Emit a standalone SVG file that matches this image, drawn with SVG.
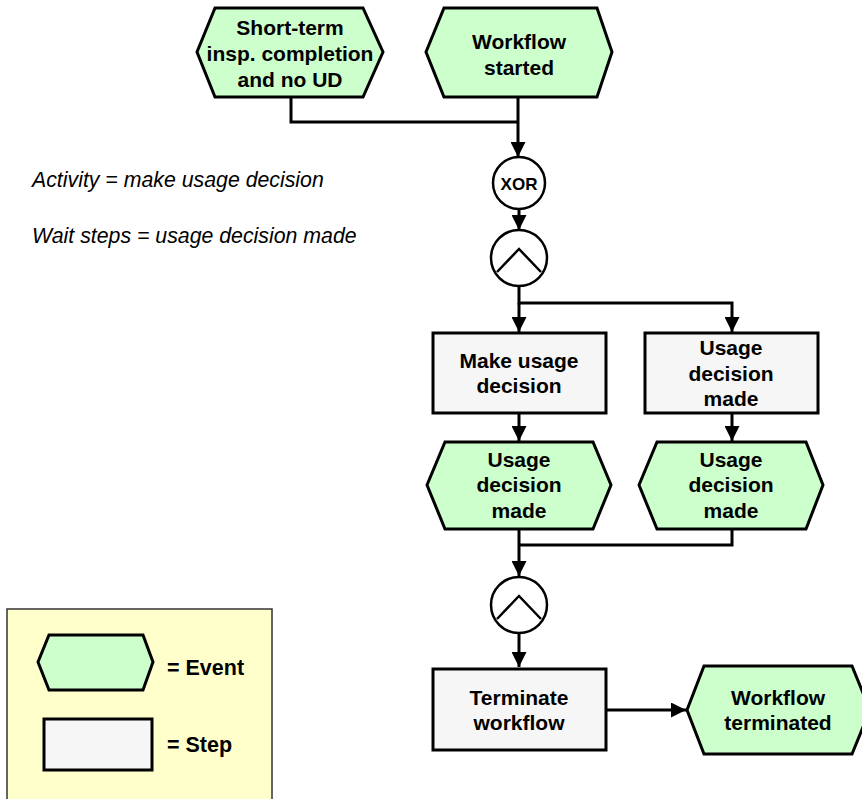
<svg xmlns="http://www.w3.org/2000/svg" width="862" height="799" viewBox="0 0 862 799">
<defs>
<style>
.ev{fill:#CCFFCC;stroke:#000;stroke-width:3;stroke-linejoin:miter}
.st{fill:#F6F6F6;stroke:#000;stroke-width:3}
.gw{fill:#FFFFFF;stroke:#000;stroke-width:2.5}
.gl{fill:none;stroke:#000;stroke-width:2.5}
.lbl{font-family:"Liberation Sans",Arial,sans-serif;font-weight:bold;font-size:21px;fill:#000;text-anchor:middle}
.note{font-family:"Liberation Sans",Arial,sans-serif;font-style:italic;font-size:21.3px;fill:#000}
.leg{font-family:"Liberation Sans",Arial,sans-serif;font-weight:bold;font-size:21.5px;fill:#000}
.cn{fill:none;stroke:#000;stroke-width:3}
</style>
<marker id="arr" viewBox="0 0 10 10" refX="10" refY="5" markerWidth="15" markerHeight="15" markerUnits="userSpaceOnUse" orient="auto">
<path d="M0,0 L10,5 L0,10 Z" fill="#000"/>
</marker>
</defs>
<rect width="862" height="799" fill="#FFFFFF"/>

<g id="connectors">
<path class="cn" d="M291,97 V122 H518"/>
<path class="cn" d="M518,97 V157" marker-end="url(#arr)"/>
<path class="cn" d="M519,209 V230" marker-end="url(#arr)"/>
<path class="cn" d="M519,287 V303 H732 V332" marker-end="url(#arr)"/>
<path class="cn" d="M519,303 V332" marker-end="url(#arr)"/>
<path class="cn" d="M519,413 V441" marker-end="url(#arr)"/>
<path class="cn" d="M732,413 V441" marker-end="url(#arr)"/>
<path class="cn" d="M732,529 V545 H519"/>
<path class="cn" d="M519,529 V576" marker-end="url(#arr)"/>
<path class="cn" d="M519,634 V667" marker-end="url(#arr)"/>
<path class="cn" d="M606,710 H686" marker-end="url(#arr)"/>
</g>

<g id="ev_shortterm">
<polygon class="ev" points="197,52 215,8 363,8 383,52 363,97 215,97"/>
<text class="lbl"><tspan x="290" y="35">Short-term</tspan><tspan x="290" y="61">insp. completion</tspan><tspan x="290" y="87">and no UD</tspan></text>
</g>

<g id="ev_started">
<polygon class="ev" points="426,52 444,8 597,8 612,52 597,97 444,97"/>
<text class="lbl"><tspan x="519" y="49">Workflow</tspan><tspan x="519" y="75">started</tspan></text>
</g>

<g id="note">
<text class="note" x="32" y="187">Activity = make usage decision</text>
<text class="note" x="32" y="243">Wait steps = usage decision made</text>
</g>

<g id="xor">
<circle class="gw" cx="519" cy="183" r="26"/>
<text class="lbl" x="519" y="190" style="font-size:17px">XOR</text>
</g>

<g id="and1">
<circle class="gw" cx="519" cy="258" r="28"/>
<polyline class="gl" points="497,272 519,249 541,272"/>
</g>

<g id="st_make">
<rect class="st" x="433" y="333" width="173" height="80"/>
<text class="lbl"><tspan x="519" y="368">Make usage</tspan><tspan x="519" y="393">decision</tspan></text>
</g>

<g id="st_wait">
<rect class="st" x="645" y="333" width="173" height="80"/>
<text class="lbl"><tspan x="731" y="355">Usage</tspan><tspan x="731" y="381">decision</tspan><tspan x="731" y="406">made</tspan></text>
</g>

<g id="ev_made1">
<polygon class="ev" points="427,485 445,442 593,442 611,485 593,529 445,529"/>
<text class="lbl"><tspan x="519" y="467">Usage</tspan><tspan x="519" y="492">decision</tspan><tspan x="519" y="518">made</tspan></text>
</g>

<g id="ev_made2">
<polygon class="ev" points="639,485 657,442 806,442 823,485 806,529 657,529"/>
<text class="lbl"><tspan x="731" y="467">Usage</tspan><tspan x="731" y="492">decision</tspan><tspan x="731" y="518">made</tspan></text>
</g>

<g id="and2">
<circle class="gw" cx="519" cy="605" r="28"/>
<polyline class="gl" points="497,619 519,596 541,619"/>
</g>

<g id="st_terminate">
<rect class="st" x="433" y="669" width="173" height="81"/>
<text class="lbl"><tspan x="519" y="705">Terminate</tspan><tspan x="519" y="730">workflow</tspan></text>
</g>

<g id="ev_terminated">
<polygon class="ev" points="687,710 704,666 852,666 870,710 852,754 704,754"/>
<text class="lbl"><tspan x="778" y="705">Workflow</tspan><tspan x="778" y="730">terminated</tspan></text>
</g>

<g id="legend">
<rect x="7" y="609" width="265" height="195" fill="#FFFFCC" stroke="#333" stroke-width="1.5"/>
<polygon class="ev" points="38,662 49,635 143,635 153,662 143,690 49,690"/>
<text class="leg" x="167" y="675">= Event</text>
<rect class="st" x="44" y="719" width="108" height="51"/>
<text class="leg" x="167" y="752">= Step</text>
</g>
</svg>
